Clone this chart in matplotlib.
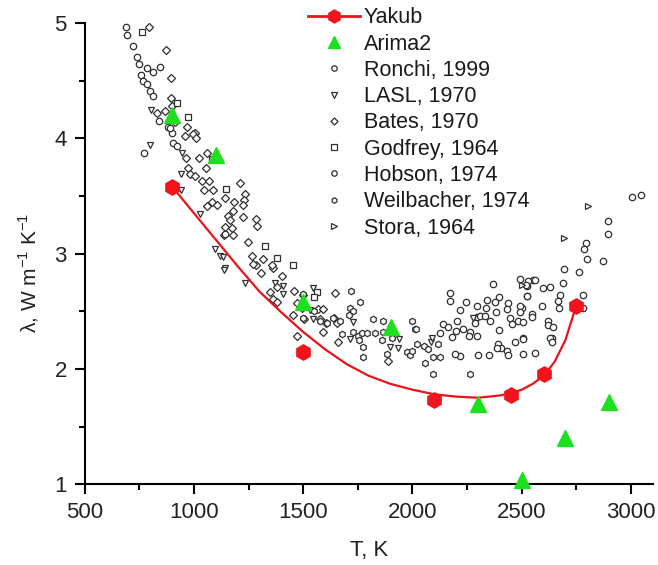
import matplotlib
matplotlib.use('Agg')
import matplotlib.pyplot as plt
from matplotlib.lines import Line2D
import numpy as np

plt.rcParams['font.family'] = ['Liberation Sans', 'DejaVu Sans']
plt.rcParams['mathtext.fontset'] = 'custom'
plt.rcParams['mathtext.rm'] = 'Liberation Sans'

# Yakub points and fitted curve
yakub_T = [900, 1500, 2100, 2450, 2600, 2750]
yakub_L = [3.58, 2.15, 1.73, 1.77, 1.96, 2.55]
fit_T = [900, 1000, 1100, 1200, 1300, 1400, 1500, 1600, 1700, 1800, 1900, 2000,
         2100, 2200, 2300, 2400, 2450, 2500, 2550, 2600, 2650, 2700, 2750]
fit_L = [3.58, 3.35, 3.12, 2.89, 2.67, 2.49, 2.32, 2.17, 2.04, 1.94, 1.87, 1.82,
         1.78, 1.76, 1.75, 1.77, 1.79, 1.82, 1.87, 1.94, 2.06, 2.25, 2.55]

# Arima2
arima_T = [900, 1100, 1500, 1900, 2300, 2500, 2700, 2900]
arima_L = [4.20, 3.86, 2.58, 2.36, 1.70, 1.04, 1.40, 1.71]

# experimental data
ronchi_T = [3005, 3046, 2895, 2895, 2794, 2785, 2799, 2872, 2693, 2762, 2689, 2551,
            2524, 2597, 2629, 2524, 2675, 2666, 2780, 2593, 2670, 2501, 2780, 2547,
            2547, 2620, 2620, 2643, 2638, 2506, 2629, 2638, 2561, 2530, 2563, 2493,
            2368, 2519, 2171, 2171, 2244, 2396, 2377, 2341, 2217, 2295, 2336, 2437,
            2432, 2382, 2492, 2492, 2524, 2295, 2309, 2332, 2354, 2286, 2203, 2139,
            2162, 2199, 2231, 2263, 2295, 2258, 2180, 2126, 2396, 2446, 2455, 2483,
            2506, 2506, 2469, 2391, 2405, 2432, 2437, 2387, 2350, 2299, 2217, 2194,
            2506]
ronchi_L = [3.49, 3.51, 3.28, 3.17, 3.09, 3.04, 2.95, 2.94, 2.87, 2.84, 2.75, 2.77,
            2.72, 2.70, 2.71, 2.63, 2.64, 2.59, 2.64, 2.55, 2.53, 2.53, 2.53, 2.48,
            2.45, 2.42, 2.38, 2.36, 2.27, 2.27, 2.27, 2.23, 2.14, 2.76, 2.77, 2.78,
            2.74, 2.73, 2.66, 2.59, 2.58, 2.62, 2.58, 2.60, 2.51, 2.55, 2.53, 2.57,
            2.52, 2.49, 2.55, 2.49, 2.63, 2.45, 2.46, 2.46, 2.42, 2.40, 2.42, 2.39,
            2.36, 2.33, 2.35, 2.32, 2.29, 2.29, 2.28, 2.31, 2.34, 2.44, 2.39, 2.42,
            2.41, 2.26, 2.23, 2.22, 2.18, 2.16, 2.12, 2.18, 2.12, 2.12, 2.11, 2.13,
            2.13]

lasl_T = [802, 798, 944, 940, 940, 1027, 1095, 1118, 1141, 1132, 1137, 1233, 1370,
          1407, 1407, 1544, 1530, 1544, 1713, 1727, 1938, 1897, 1933, 2277, 2084, 2089]
lasl_L = [4.25, 3.94, 3.87, 3.69, 3.55, 3.34, 3.04, 2.98, 2.88, 2.97, 2.86, 2.75, 2.75,
          2.72, 2.65, 2.70, 2.51, 2.43, 2.26, 2.41, 2.26, 2.19, 2.18, 2.44, 2.23, 2.27]

bates_T = [793, 871, 894, 894, 898, 912, 830, 866, 967, 1004, 958, 995, 1008, 962,
           1022, 1058, 972, 1054, 981, 1004, 1036, 1068, 1210, 1045, 1086, 1233, 1228,
           1141, 1182, 1081, 1104, 1058, 1224, 1178, 1155, 1224, 1164, 1283, 1288, 1141,
           1173, 1178, 1137, 1246, 1265, 1315, 1283, 1361, 1402, 1269, 1306, 1356, 1379,
           1347, 1361, 1379, 1457, 1498, 1471, 1494, 1567, 1590, 1452, 1503, 1576, 1603,
           1640, 1654, 1471, 1590, 1645, 1658, 1887]
bates_L = [4.97, 4.77, 4.52, 4.35, 4.28, 4.14, 4.22, 4.24, 4.10, 4.05, 4.02, 4.04, 4.00,
           3.83, 3.83, 3.87, 3.74, 3.74, 3.69, 3.67, 3.63, 3.63, 3.61, 3.55, 3.55, 3.52,
           3.47, 3.48, 3.45, 3.45, 3.42, 3.41, 3.42, 3.37, 3.33, 3.32, 3.29, 3.30, 3.24,
           3.23, 3.22, 3.16, 3.16, 3.10, 2.98, 2.95, 2.90, 2.88, 2.81, 2.91, 2.83, 2.90,
           2.71, 2.67, 2.61, 2.58, 2.68, 2.64, 2.57, 2.53, 2.52, 2.52, 2.47, 2.43, 2.43,
           2.40, 2.44, 2.40, 2.29, 2.32, 2.66, 2.23, 2.07]

godfrey_T = [761, 921, 972, 1081, 1146, 1324, 1379, 1452, 1562, 1549]
godfrey_L = [4.92, 4.31, 4.19, 3.82, 3.56, 3.07, 2.96, 2.90, 2.67, 2.62]

hobson_T = [688, 692, 720, 738, 747, 756, 766, 770, 784, 784, 798, 811, 811, 839,
            843, 880, 898, 889, 903, 921, 1141]
hobson_L = [4.97, 4.90, 4.80, 4.71, 4.65, 4.55, 4.50, 3.87, 4.61, 4.47, 4.41, 4.58,
            4.37, 4.15, 4.62, 4.10, 4.05, 4.09, 3.96, 3.93, 3.17]

weil_T = [1718, 1759, 1713, 1727, 1709, 1549, 1498, 1576, 1608, 1635, 1667, 1819,
          1864, 1677, 1727, 1750, 1768, 1791, 1755, 1828, 1864, 1860, 1906, 1883,
          1773, 1773, 1974, 1988, 1997, 2011, 2020, 1498, 2016, 2052, 2116, 2070,
          2093, 2126, 2057, 2093, 2263, 1997]
weil_L = [2.68, 2.58, 2.53, 2.50, 2.47, 2.50, 2.44, 2.42, 2.40, 2.44, 2.42, 2.43,
          2.42, 2.30, 2.32, 2.29, 2.31, 2.31, 2.25, 2.31, 2.32, 2.25, 2.27, 2.13,
          2.19, 2.10, 2.15, 2.12, 2.42, 2.35, 2.22, 2.65, 2.35, 2.20, 2.22, 2.17,
          2.10, 2.10, 2.05, 1.96, 1.96, 2.16]

stora_T = [2501, 2693, 2803]
stora_L = [2.73, 3.14, 3.41]

fig = plt.figure(figsize=(6.58, 5.65), dpi=100)
ax = fig.add_axes([0.129, 0.143, 0.863, 0.816])

grey = dict(ls='none', mfc='white', mec='#303030', mew=0.9, ms=4.6)
ax.plot(fit_T, fit_L, color='#e8141b', lw=1.6, zorder=4)
h_yak, = ax.plot(yakub_T, yakub_L, ls='none', marker='h', ms=11, color='#f2131b',
                 zorder=5, clip_on=False)
h_ari, = ax.plot(arima_T, arima_L, ls='none', marker='^', ms=11, color='#1ee01e',
                 zorder=5, clip_on=False)
h_ron, = ax.plot(ronchi_T, ronchi_L, marker='o', **grey)
h_las, = ax.plot(lasl_T, lasl_L, marker='v', **grey)
h_bat, = ax.plot(bates_T, bates_L, marker='D', **dict(grey, ms=4.2))
h_god, = ax.plot(godfrey_T, godfrey_L, marker='s', **grey)
h_hob, = ax.plot(hobson_T, hobson_L, marker='o', **grey)
h_wei, = ax.plot(weil_T, weil_L, marker='h', **grey)
h_sto, = ax.plot(stora_T, stora_L, marker='>', **grey)

# legend handle for Yakub: line + marker
yak_leg = Line2D([], [], color='#e8141b', lw=2, marker='h', ms=11,
                 mfc='#f2131b', mec='#f2131b')

leg = fig.legend([yak_leg, h_ari, h_ron, h_las, h_bat, h_god, h_hob, h_wei, h_sto],
                 ['Yakub', 'Arima2', 'Ronchi, 1999', 'LASL, 1970', 'Bates, 1970',
                  'Godfrey, 1964', 'Hobson, 1974', 'Weilbacher, 1974', 'Stora, 1964'],
                 loc='upper left', bbox_to_anchor=(0.468, 0.987), frameon=False,
                 fontsize=15.5, handlelength=2.4, handletextpad=0.2, labelspacing=0.245,
                 borderpad=0, borderaxespad=0, markerscale=0.85)
for t in leg.get_texts():
    t.set_color('#1a1a1a')

ax.set_xlim(500, 3100)
ax.set_ylim(1, 5)
ax.set_xticks([500, 1000, 1500, 2000, 2500, 3000])
ax.set_yticks([1, 2, 3, 4, 5])
ax.set_xticks(np.arange(750, 3100, 500), minor=True)
ax.set_yticks([1.5, 2.5, 3.5, 4.5], minor=True)
ax.spines['top'].set_visible(False)
ax.spines['right'].set_visible(False)
for s in ['left', 'bottom']:
    ax.spines[s].set_linewidth(1.5)
ax.tick_params(which='major', direction='out', length=7, width=1.5, labelsize=16,
               colors='black', labelcolor='#222222', pad=6)
ax.tick_params(which='minor', direction='out', length=4.5, width=1.5)

ax.set_xlabel('T, K', fontsize=16, color='#222222', labelpad=12)
ax.set_ylabel('λ, W m$^{-1}$ K$^{-1}$', fontsize=15, color='#222222')
ax.yaxis.set_label_coords(-0.078, 0.458)

fig.savefig('out.png', dpi=100)
